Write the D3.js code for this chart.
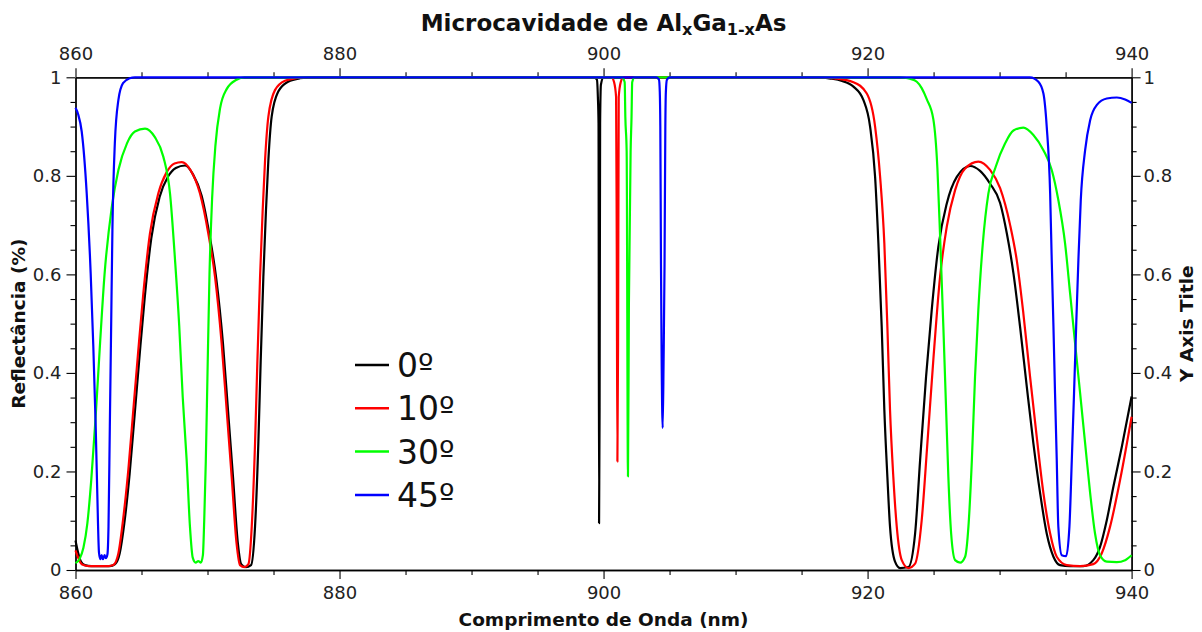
<!DOCTYPE html>
<html><head><meta charset="utf-8">
<script src="https://cdn.jsdelivr.net/npm/d3@7"></script>
<style>
body{margin:0;background:#fff;}
svg{display:block;font-family:"DejaVu Sans",sans-serif;}
</style></head><body>
<svg id="chart" width="1202" height="632"></svg>
<script>
// ---- data ----
const seriesNames = ["0º", "10º", "30º", "45º"];
const xMajorTicks = [860, 880, 900, 920, 940];
const xMinorTicks = [865, 870, 875, 885, 890, 895, 905, 910, 915, 925, 930, 935];
const yMajorTicks = [0, 0.2, 0.4, 0.6, 0.8, 1];
const yTickLabels = ["0", "0.2", "0.4", "0.6", "0.8", "1"];
const yMinorTicks = [0.05, 0.1, 0.15, 0.25, 0.3, 0.35, 0.45, 0.5, 0.55, 0.65, 0.7, 0.75, 0.85, 0.9, 0.95];

// [wavelength nm, reflectance]
const r0 = [[860.0,0.060],[860.2,0.035],[860.4,0.018],[860.7,0.010],[861.2,0.008],[862.0,0.008],[862.6,0.008],[863.0,0.012],[863.35,0.034],[863.7,0.095],[864.1,0.195],[864.48,0.315],[864.86,0.437],[865.24,0.552],[865.74,0.673],[866.37,0.757],[867.0,0.798],[867.6,0.816],[868.3,0.821],[868.9,0.803],[869.55,0.760],[870.15,0.680],[870.67,0.590],[871.17,0.460],[871.55,0.325],[871.93,0.189],[872.3,0.054],[872.55,0.012],[872.9,0.006],[873.3,0.010],[873.6,0.088],[873.85,0.257],[874.03,0.426],[874.23,0.595],[874.43,0.731],[874.61,0.832],[874.86,0.920],[875.36,0.971],[876.1,0.991],[877.0,0.998],[878.0,1.0],[899.3,1.0],[899.5,0.995],[899.57,0.96],[899.62,0.907],[899.66,0.095],[899.7,0.33],[899.74,0.907],[899.8,0.985],[900.0,1.0],[916.4,1.0],[917.3,0.997],[918.0,0.993],[918.93,0.981],[919.68,0.954],[920.19,0.900],[920.57,0.798],[920.82,0.663],[921.07,0.494],[921.27,0.325],[921.5,0.189],[921.7,0.088],[922.08,0.017],[922.46,0.004],[923.09,0.006],[923.6,0.074],[923.98,0.223],[924.43,0.392],[924.86,0.528],[925.36,0.656],[926.0,0.744],[926.76,0.798],[927.77,0.820],[928.52,0.810],[929.28,0.784],[930.04,0.745],[930.55,0.683],[931.05,0.602],[931.55,0.494],[932.06,0.372],[932.56,0.257],[933.07,0.156],[933.57,0.074],[934.08,0.027],[934.58,0.010],[935.34,0.008],[936.35,0.008],[937.1,0.020],[937.61,0.047],[938.12,0.101],[938.62,0.169],[939.26,0.250],[940.0,0.352]];

const r10 = [[860.0,0.040],[860.2,0.025],[860.4,0.014],[860.6,0.010],[861.0,0.008],[862.0,0.008],[862.5,0.008],[862.86,0.010],[863.25,0.034],[863.6,0.101],[864.0,0.203],[864.38,0.325],[864.76,0.447],[865.14,0.562],[865.64,0.683],[866.27,0.764],[866.9,0.807],[867.5,0.825],[868.05,0.828],[868.7,0.812],[869.43,0.764],[870.06,0.683],[870.57,0.595],[871.07,0.460],[871.45,0.325],[871.83,0.189],[872.2,0.054],[872.46,0.010],[872.8,0.006],[873.1,0.012],[873.35,0.088],[873.6,0.257],[873.78,0.426],[873.98,0.595],[874.18,0.731],[874.36,0.832],[874.61,0.920],[875.11,0.974],[875.87,0.993],[876.7,0.998],[877.5,1.0],[900.6,1.0],[900.8,0.99],[900.95,0.96],[901.0,0.66],[901.05,0.22],[901.1,0.46],[901.15,0.96],[901.3,0.99],[901.5,1.0],[916.5,1.0],[917.5,0.998],[918.93,0.990],[919.94,0.967],[920.57,0.900],[920.95,0.798],[921.27,0.663],[921.5,0.494],[921.7,0.325],[921.95,0.189],[922.21,0.088],[922.59,0.020],[923.09,0.004],[923.6,0.013],[924.1,0.101],[924.53,0.257],[924.98,0.426],[925.49,0.595],[926.0,0.697],[926.63,0.771],[927.39,0.815],[928.39,0.829],[929.28,0.812],[930.04,0.775],[930.8,0.700],[931.3,0.629],[931.8,0.521],[932.31,0.392],[932.81,0.271],[933.32,0.156],[933.83,0.074],[934.33,0.027],[935.09,0.010],[936.1,0.008],[937.1,0.012],[937.74,0.034],[938.37,0.088],[939.13,0.183],[940.0,0.311]];

const r30 = [[860.0,0.014],[860.3,0.022],[860.6,0.045],[860.9,0.095],[861.2,0.185],[861.5,0.300],[861.86,0.460],[862.2,0.600],[862.74,0.735],[863.25,0.812],[863.9,0.866],[864.5,0.890],[865.27,0.896],[866.0,0.879],[866.65,0.839],[867.16,0.764],[867.54,0.629],[867.86,0.494],[868.12,0.352],[868.42,0.223],[868.67,0.088],[868.88,0.025],[869.1,0.015],[869.3,0.018],[869.5,0.015],[869.65,0.030],[869.75,0.100],[869.87,0.220],[870.0,0.400],[870.15,0.600],[870.35,0.755],[870.6,0.862],[870.95,0.937],[871.45,0.976],[872.2,0.995],[872.8,1.0],[901.4,1.0],[901.6,0.99],[901.65,0.92],[901.75,0.85],[901.85,0.19],[901.92,0.54],[902.05,0.85],[902.12,0.92],[902.17,0.99],[902.35,1.0],[922.46,1.0],[923.2,0.997],[923.73,0.991],[924.1,0.978],[924.49,0.955],[924.98,0.915],[925.29,0.815],[925.49,0.680],[925.74,0.494],[925.95,0.325],[926.12,0.189],[926.33,0.074],[926.63,0.020],[927.01,0.015],[927.39,0.027],[927.64,0.088],[927.9,0.223],[928.14,0.392],[928.39,0.528],[928.73,0.663],[929.15,0.764],[929.7,0.818],[930.42,0.866],[931.05,0.892],[931.8,0.898],[932.56,0.883],[933.32,0.852],[933.95,0.812],[934.45,0.751],[934.96,0.663],[935.34,0.562],[935.72,0.460],[936.1,0.359],[936.48,0.257],[936.86,0.156],[937.23,0.074],[937.61,0.030],[938.12,0.017],[938.88,0.016],[939.51,0.020],[940.0,0.030]];

const r45 = [[860.0,0.938],[860.2,0.925],[860.47,0.890],[860.85,0.764],[861.15,0.602],[861.35,0.453],[861.53,0.291],[861.65,0.156],[861.78,0.035],[861.88,0.022],[861.98,0.030],[862.08,0.022],[862.2,0.030],[862.3,0.024],[862.42,0.032],[862.5,0.088],[862.6,0.291],[862.7,0.494],[862.8,0.697],[862.98,0.866],[863.25,0.954],[863.6,0.988],[864.1,0.998],[864.5,1.0],[904.0,1.0],[904.2,0.995],[904.26,0.97],[904.3,0.9],[904.35,0.62],[904.4,0.43],[904.48,0.288],[904.55,0.43],[904.62,0.62],[904.68,0.9],[904.72,0.97],[904.8,0.995],[905.0,1.0],[932.3,1.0],[932.94,0.991],[933.32,0.967],[933.57,0.900],[933.83,0.764],[933.95,0.629],[934.08,0.494],[934.2,0.359],[934.33,0.223],[934.45,0.088],[934.71,0.030],[935.04,0.028],[935.29,0.088],[935.47,0.223],[935.64,0.359],[935.8,0.494],[935.97,0.629],[936.15,0.751],[936.48,0.852],[936.86,0.913],[937.37,0.944],[938.12,0.957],[938.88,0.959],[939.51,0.955],[940.0,0.948]];

// ---- drawing ----
const colors = ["#000000", "#ff0000", "#00ff00", "#0000ff"];
const seriesData = [r0, r10, r30, r45];

const svg = d3.select("#chart");
const L = 75.5, R = 1131.6, T = 77.3, B = 570;
const x = d3.scaleLinear().domain([860, 940]).range([L, R]);
const y = d3.scaleLinear().domain([0, 1]).range([B, T]);

const tickFont = 18;
function styleAxis(g) {
  g.selectAll("path.domain").attr("stroke", "#000").attr("stroke-width", 1.3);
  g.selectAll(".tick line").attr("stroke", "#000").attr("stroke-width", 1.1);
  g.selectAll(".tick text").attr("font-size", tickFont).attr("font-family", "DejaVu Sans").attr("fill", "#222");
}
// minor ticks
svg.append("g").attr("transform", `translate(0,${B})`).call(d3.axisBottom(x).tickValues(xMinorTicks).tickSize(5).tickSizeOuter(0).tickFormat("")).call(styleAxis);
svg.append("g").attr("transform", `translate(0,${T})`).call(d3.axisTop(x).tickValues(xMinorTicks).tickSize(5).tickSizeOuter(0).tickFormat("")).call(styleAxis);
svg.append("g").attr("transform", `translate(${L},0)`).call(d3.axisLeft(y).tickValues(yMinorTicks).tickSize(5).tickSizeOuter(0).tickFormat("")).call(styleAxis);
svg.append("g").attr("transform", `translate(${R},0)`).call(d3.axisRight(y).tickValues(yMinorTicks).tickSize(5).tickSizeOuter(0).tickFormat("")).call(styleAxis);
// major ticks
svg.append("g").attr("transform", `translate(0,${B})`).call(d3.axisBottom(x).tickValues(xMajorTicks).tickSize(9).tickPadding(7).tickSizeOuter(0).tickFormat(d3.format("d"))).call(styleAxis);
svg.append("g").attr("transform", `translate(0,${T})`).call(d3.axisTop(x).tickValues(xMajorTicks).tickSize(9).tickPadding(8).tickSizeOuter(0).tickFormat(d3.format("d"))).call(styleAxis);
svg.append("g").attr("transform", `translate(${L},0)`).call(d3.axisLeft(y).tickValues(yMajorTicks).tickSize(9).tickPadding(5).tickSizeOuter(0).tickFormat((d, i) => yTickLabels[i])).call(styleAxis);
svg.append("g").attr("transform", `translate(${R},0)`).call(d3.axisRight(y).tickValues(yMajorTicks).tickSize(9).tickPadding(3).tickSizeOuter(0).tickFormat((d, i) => yTickLabels[i])).call(styleAxis);

// curves
const line = d3.line().x(d => x(d[0])).y(d => y(d[1])).curve(d3.curveMonotoneX);
svg.append("g").selectAll("path").data(seriesData).join("path")
  .attr("d", d => line(d)).attr("fill", "none")
  .attr("stroke", (d, i) => colors[i]).attr("stroke-width", 2.2)
  .attr("stroke-linejoin", "round");

// titles
const title = svg.append("text").attr("x", (L + R) / 2).attr("y", 31).attr("text-anchor", "middle")
  .attr("font-size", 23).attr("font-weight", "bold").attr("fill", "#111");
title.append("tspan").text("Microcavidade de Al");
title.append("tspan").attr("font-size", 16).attr("dy", 4).text("x");
title.append("tspan").attr("dy", -4).text("Ga");
title.append("tspan").attr("font-size", 16).attr("dy", 4).text("1-x");
title.append("tspan").attr("dy", -4).text("As");

const axisTitleFont = 18.5;
svg.append("text").attr("x", (L + R) / 2).attr("y", 626).attr("text-anchor", "middle")
  .attr("font-size", axisTitleFont).attr("font-weight", "bold").attr("fill", "#111").text("Comprimento de Onda (nm)");
svg.append("text").attr("transform", `translate(25,${(T + B) / 2}) rotate(-90)`).attr("text-anchor", "middle")
  .attr("font-size", axisTitleFont).attr("font-weight", "bold").attr("fill", "#111").text("Reflectância (%)");
svg.append("text").attr("transform", `translate(1193,${(T + B) / 2}) rotate(-90)`).attr("text-anchor", "middle")
  .attr("font-size", axisTitleFont).attr("font-weight", "bold").attr("fill", "#111").text("Y Axis Title");

// legend
const leg = svg.append("g");
const legY0 = 365, legDy = 43.3;
seriesNames.forEach((name, i) => {
  const yy = legY0 + i * legDy;
  leg.append("line").attr("x1", 355).attr("x2", 389).attr("y1", yy).attr("y2", yy)
    .attr("stroke", colors[i]).attr("stroke-width", 2.5);
  leg.append("text").attr("x", 397).attr("y", yy + 12).attr("font-size", 33).attr("fill", "#111").text(name);
});
</script>
</body></html>
